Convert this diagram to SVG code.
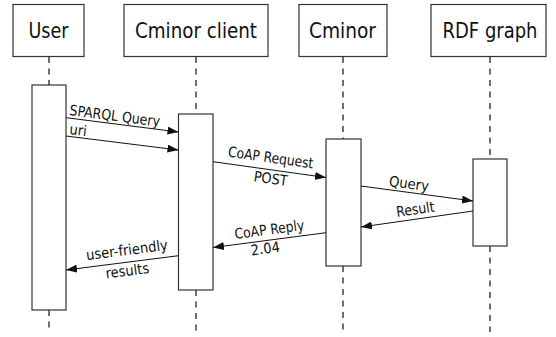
<svg xmlns="http://www.w3.org/2000/svg" width="556" height="337" viewBox="0 0 556 337">
<style>
.box{fill:#fff;stroke:#333;stroke-width:1.2}
.life{stroke:#222;stroke-width:1.3;stroke-dasharray:6 5.5;fill:none}
.msg{stroke:#111;stroke-width:1;fill:none;marker-end:url(#ah)}
.hd{font-family:"DejaVu Sans Condensed","DejaVu Sans",sans-serif;font-stretch:condensed;font-size:21px;fill:#111;text-anchor:middle}
.lb{font-family:"DejaVu Sans Condensed","DejaVu Sans",sans-serif;font-stretch:condensed;font-size:14.5px;fill:#111}
.m{text-anchor:middle}
</style>
<defs>
<marker id="ah" markerUnits="userSpaceOnUse" markerWidth="12" markerHeight="8" refX="11" refY="4" orient="auto">
<path d="M0,0 L11,4 L0,8 Z" fill="#111"/>
</marker>
</defs>
<g id="lifelines">
<path class="life" d="M49,57V85 M49,310V332"/>
<path class="life" d="M196,57V114 M196,290V332"/>
<path class="life" d="M343,57V139 M343,266V332"/>
<path class="life" d="M490,57V159 M490,246V332"/>
</g>
<g id="user">
<rect class="box" x="13" y="4.5" width="71" height="52"/>
<text class="hd" x="48.5" y="38.3" textLength="40" lengthAdjust="spacingAndGlyphs">User</text>
<rect class="box" x="32" y="85" width="34" height="225"/>
</g>
<g id="cminor-client">
<rect class="box" x="124" y="4.5" width="144" height="52"/>
<text class="hd" x="196" y="38.3" textLength="122" lengthAdjust="spacingAndGlyphs">Cminor client</text>
<rect class="box" x="178.5" y="114" width="34.5" height="176"/>
</g>
<g id="cminor">
<rect class="box" x="299" y="4.5" width="88" height="52"/>
<text class="hd" x="342.5" y="38.3" textLength="67" lengthAdjust="spacingAndGlyphs">Cminor</text>
<rect class="box" x="326" y="139" width="35" height="127"/>
</g>
<g id="rdf-graph">
<rect class="box" x="431" y="4.5" width="115" height="52"/>
<text class="hd" x="490" y="38.3" textLength="95" lengthAdjust="spacingAndGlyphs">RDF graph</text>
<rect class="box" x="473" y="159" width="34" height="87"/>
</g>
<g id="connectors">
<line class="msg" x1="66" y1="117.7" x2="178.5" y2="132"/>
<line class="msg" x1="66" y1="136" x2="178.5" y2="150"/>
<line class="msg" x1="213" y1="161.7" x2="326" y2="177.5"/>
<line class="msg" x1="361" y1="186" x2="473" y2="201"/>
<line class="msg" x1="473" y1="211" x2="361" y2="227"/>
<line class="msg" x1="326" y1="232.7" x2="213" y2="247.5"/>
<line class="msg" x1="178.5" y1="255.7" x2="66" y2="270"/>
<text class="lb" transform="translate(69,115) rotate(7.24)" textLength="91" lengthAdjust="spacingAndGlyphs">SPARQL Query</text>
<text class="lb" transform="translate(69,134) rotate(7.1)">uri</text>
<text class="lb m" transform="translate(270,162.5) rotate(7.96)" textLength="86" lengthAdjust="spacingAndGlyphs">CoAP Request</text>
<text class="lb m" transform="translate(270,183.5) rotate(7.96)" textLength="34" lengthAdjust="spacingAndGlyphs">POST</text>
<text class="lb m" transform="translate(408.3,188.6) rotate(7.63)" textLength="40" lengthAdjust="spacingAndGlyphs">Query</text>
<text class="lb m" transform="translate(416,214.2) rotate(-8.13)" textLength="38.5" lengthAdjust="spacingAndGlyphs">Result</text>
<text class="lb m" transform="translate(270,234.5) rotate(-7.46)" textLength="70" lengthAdjust="spacingAndGlyphs">CoAP Reply</text>
<text class="lb m" transform="translate(266,253.5) rotate(-7.46)">2.04</text>
<text class="lb m" transform="translate(127.5,255) rotate(-7.24)" textLength="82" lengthAdjust="spacingAndGlyphs">user-friendly</text>
<text class="lb m" transform="translate(128,275.7) rotate(-7.24)">results</text>
</g>
</svg>
